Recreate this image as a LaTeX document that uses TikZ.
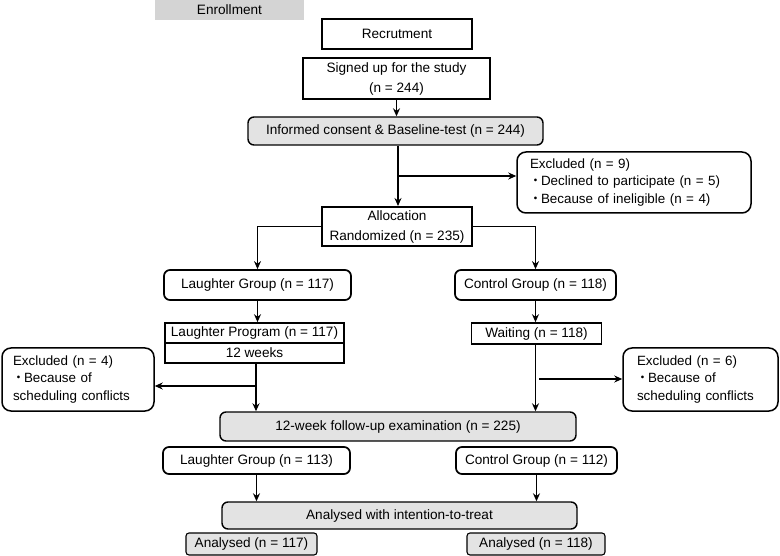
\documentclass[tikz,border=0pt]{standalone}
\usepackage{fontspec}
\setmainfont{Liberation Sans}
\newfontfamily\jpfont{Noto Sans CJK JP}
\usetikzlibrary{arrows.meta}
\definecolor{boxgray}{HTML}{E3E3E3}
\definecolor{headgray}{HTML}{D4D4D4}
\newcommand{\dotitem}{\makebox[11pt][c]{\jpfont ・}}

\begin{document}
\begin{tikzpicture}[x=1pt, y=-1pt,
    every node/.style={font=\fontsize{13.6}{20}\selectfont, inner sep=0pt},
    plainbox/.style={draw, line width=2pt, align=center},
    roundbox/.style={draw, line width=1.7pt, rounded corners=6pt, align=center},
    graybox/.style={roundbox, line width=1.4pt, fill=boxgray},
    exclbox/.style={draw, line width=1.5pt, rounded corners=9pt, align=left,
      inner xsep=13pt, font=\fontsize{13.4}{17.5}\selectfont},
    smallbox/.style={draw, line width=1.1pt, rounded corners=3pt, fill=boxgray},
    arr/.style={-{Stealth[length=8pt, width=7pt]}, line width=1.3pt},
    lin/.style={line width=1.3pt}]
  \useasboundingbox (0,0) rectangle (780,556);
  % enrollment
  \node[fill=headgray, minimum width=149pt, minimum height=20pt] (enroll) at (229.5,10) {Enrollment};
  \node[plainbox, line width=2.2pt, minimum width=150pt, minimum height=30pt] (recruit) at (397,34) {Recrutment};
  \node[plainbox, minimum width=187pt, minimum height=41pt] (signed) at (396.5,78.5) {Signed up for the study\\(n = 244)};
  \node[graybox, minimum width=295pt, minimum height=28pt] (consent) at (395.5,131) {Informed consent \& Baseline-test (n = 244)};
  \node[exclbox, text width=208pt, minimum height=61pt] (excla) at (634,182.5)
    {Excluded (n = 9)\\\dotitem Declined to participate (n = 5)\\\dotitem Because of ineligible (n = 4)};
  \node[plainbox, minimum width=150pt, minimum height=39pt] (alloc) at (397,226.5) {Allocation\\Randomized (n = 235)};
  % allocation
  \node[roundbox, minimum width=187pt, minimum height=30pt] (laugha) at (257.5,285) {Laughter Group (n = 117)};
  \node[roundbox, minimum width=161pt, minimum height=30pt] (ctrla) at (535.5,285) {Control Group (n = 118)};
  \node[plainbox, line width=1.6pt, minimum width=179pt, minimum height=20pt] (prog) at (254.5,333) {Laughter Program (n = 117)};
  \node[plainbox, line width=1.6pt, minimum width=179pt, minimum height=20pt] (weeks) at (254.5,353) {12 weeks};
  \node[plainbox, line width=1.6pt, minimum width=130pt, minimum height=21pt] (wait) at (536.5,333.5) {Waiting (n = 118)};
  \node[exclbox, inner xsep=11pt, text width=130pt, minimum height=63pt] (exclb) at (78,379.5)
    {Excluded (n = 4)\\\dotitem Because of\\scheduling conflicts};
  \node[exclbox, inner xsep=14pt, text width=127pt, minimum height=63pt] (exclc) at (700.5,379.5)
    {Excluded (n = 6)\\\dotitem Because of\\scheduling conflicts};
  % follow-up
  \node[graybox, minimum width=356pt, minimum height=29pt] (follow) at (398,426.5) {12-week follow-up examination (n = 225)};
  \node[roundbox, minimum width=187pt, minimum height=27pt] (laughb) at (256.5,460.5) {Laughter Group (n = 113)};
  \node[roundbox, minimum width=161pt, minimum height=27pt] (ctrlb) at (536.5,460.5) {Control Group (n = 112)};
  % analysis
  \node[graybox, minimum width=355pt, minimum height=27pt] (itt) at (399.5,515.5) {Analysed with intention-to-treat};
  \node[smallbox, minimum width=131pt, minimum height=22pt] (ana) at (251.5,544) {Analysed (n = 117)};
  \node[smallbox, minimum width=138pt, minimum height=22pt] (anb) at (536,544) {Analysed (n = 118)};
  % branch points
  \coordinate (bra) at (398,176);
  \coordinate (brb) at (256,386);
  \coordinate (brc) at (539,379);
  % connectors
  \draw[arr] (signed.south) -- (signed.south |- consent.north);
  \draw[arr] (398,0 |- consent.south) -- (398,0 |- alloc.north);
  \draw[arr] (bra) -- (bra -| excla.west);
  \draw[arr] (alloc.west) -| (laugha.south |- laugha.north);
  \draw[arr] (alloc.east) -| (ctrla.north);
  \draw[arr] (laugha.south) -- (laugha.south |- prog.north);
  \draw[arr] (ctrla.south) -- (ctrla.south |- wait.north);
  \draw[arr] (weeks.south -| brb) -- (brb |- follow.north);
  \draw[arr] (brb) -- (brb -| exclb.east);
  \draw[arr] (wait.south -| ctrla.south) -- (ctrla.south |- follow.north);
  \draw[arr] (brc) -- (brc -| exclc.west);
  \draw[arr] (laughb.south) -- (laughb.south |- itt.north);
  \draw[arr] (ctrlb.south) -- (ctrlb.south |- itt.north);
\end{tikzpicture}
\end{document}
